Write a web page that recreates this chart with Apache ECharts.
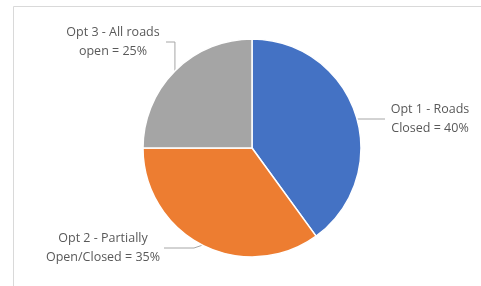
<!DOCTYPE html>
<html><head><meta charset="utf-8">
<script src="https://cdn.jsdelivr.net/npm/echarts@6/dist/echarts.min.js"></script>
<style>html,body{margin:0;padding:0;background:#fff}#c{width:481px;height:286px}</style>
</head><body><div id="c"></div>
<script>
const categories = ['Opt 1 - Roads\nClosed', 'Opt 2 - Partially\nOpen/Closed', 'Opt 3 - All roads\nopen'];
const values = [40, 35, 25];
const colors = ['#4472C4', '#ED7D31', '#A5A5A5'];
const labelPos = [[430, 119], [103, 248], [113, 42]];
const labelWidths = [90, 122, 106];

const chart = echarts.init(document.getElementById('c'));
chart.setOption({
  animation: false,
  graphic: [{
    type: 'polyline', silent: true,
    shape: { points: [[13.5, 286], [13.5, 6.5], [481, 6.5]] },
    style: { stroke: '#d9d9d9', lineWidth: 1, fill: null }
  }],
  series: [{
    type: 'pie',
    center: [252, 148],
    radius: 109,
    startAngle: 90,
    clockwise: true,
    data: categories.map((c, i) => ({ name: c, value: values[i], itemStyle: { color: colors[i] }, label: { width: labelWidths[i] } })),
    itemStyle: { borderColor: '#fff', borderWidth: 1.5 },
    label: {
      show: true,
      formatter: p => p.name + ' = ' + p.value + '%',
      fontFamily: 'Open Sans',
      fontSize: 12.5,
      lineHeight: 19,
      color: '#595959',
      align: 'center',
      overflow: 'none'
    },
    labelLine: { show: true, lineStyle: { color: '#a6a6a6', width: 1 } },
    labelLayout: p => ({ x: labelPos[p.dataIndex][0], y: labelPos[p.dataIndex][1], align: 'center', verticalAlign: 'middle' })
  }]
});
</script></body></html>
